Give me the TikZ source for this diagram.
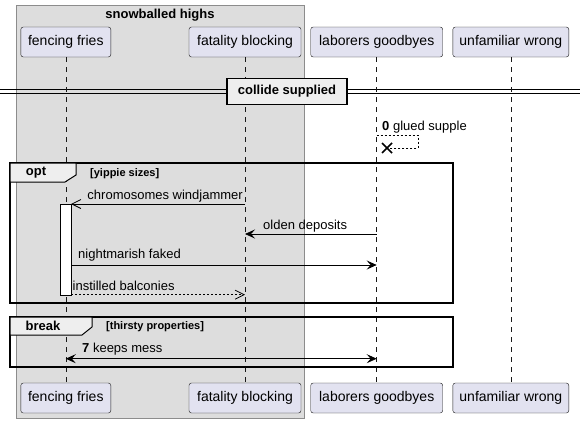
\documentclass[tikz,border=0pt]{standalone}
\usepackage{fontspec}
\setmainfont{Liberation Sans}
\usetikzlibrary{arrows.meta,calc}
\definecolor{partfill}{HTML}{E2E2F0}
\definecolor{boxgray}{HTML}{DDDDDD}
\definecolor{tabfill}{HTML}{EEEEEE}
\definecolor{lifegray}{HTML}{181818}
\begin{document}
\begin{tikzpicture}[x = 1pt, y = -1pt,
		part/.style = {draw = lifegray, fill = partfill, rounded corners = 2.5pt, minimum height = 30pt, inner sep = 0pt, font = \fontsize{14}{16}\selectfont},
		life/.style = {draw = lifegray, dash pattern = on 5pt off 5pt, line width = 0.5pt},
		msg/.style = {line width = 0.8pt, -{Stealth[length = 10pt, width = 9pt, inset = 4pt]}},
		both/.style = {line width = 0.8pt, {Stealth[length = 10pt, width = 9pt, inset = 4pt]}-{Stealth[length = 10pt, width = 9pt, inset = 4pt]}},
		opn/.style = {line width = 0.8pt, -{Straight Barb[length = 9pt, width = 9pt]}},
		txt/.style = {inner sep = 0pt, anchor = west, font = \fontsize{13}{15}\selectfont},
		cond/.style = {inner sep = 0pt, anchor = west, font = \fontsize{11}{13}\selectfont\bfseries},
		fragbox/.style = {line width = 1.5pt}
	]
		\useasboundingbox (0,0) rectangle (580,423);
		% group
		\draw[fill = boxgray, draw = black!45] (16,5) rectangle (304,418);
		\node[font = \fontsize{13}{15}\selectfont\bfseries] (grp) at (160,15) {snowballed highs};
		% divider
		\draw[line width = 1pt] (0,89.3) -- (580,89.3) (0,93.3) -- (580,93.3);
		% participants
		\node[part, minimum width = 90pt] (fft) at (65.8,42) {fencing fries};
		\node[part, minimum width = 112pt] (fbt) at (245,42) {fatality blocking};
		\node[part, minimum width = 132pt] (lgt) at (376.7,42) {laborers goodbyes};
		\node[part, minimum width = 116pt] (uwt) at (510.8,42) {unfamiliar wrong};
		\node[part, minimum width = 90pt] (ffb) at (65.8,398) {fencing fries};
		\node[part, minimum width = 112pt] (fbb) at (245,398) {fatality blocking};
		\node[part, minimum width = 132pt] (lgb) at (376.7,398) {laborers goodbyes};
		\node[part, minimum width = 116pt] (uwb) at (510.8,398) {unfamiliar wrong};
		\draw[life] (fft) -- (ffb);
		\draw[life] (fbt) -- (fbb);
		\draw[life] (lgt) -- (lgb);
		\draw[life] (uwt) -- (uwb);
		\node[draw, line width = 1.5pt, fill = tabfill, minimum width = 120pt, minimum height = 26pt, inner sep = 0pt, font = \fontsize{13}{15}\selectfont\bfseries] (div) at (287,91.3) {collide supplied};
		% self message
		\coordinate (s0) at (376.7,135);
		\coordinate (s1) at (387,148);
		\draw[dash pattern = on 2pt off 2pt, line width = 0.6pt] (s0) -- (418,135) -- (418,148) -- (s1);
		\draw[line width = 1.6pt] ($(s1)+(-5,-5)$) -- ($(s1)+(5,5)$) ($(s1)+(-5,5)$) -- ($(s1)+(5,-5)$);
		\node[txt] (t0) at (382,127) {\textbf{0} glued supple};
		% opt
		\draw[fragbox] (10,163) rectangle (453,303);
		\draw[line width = 1pt, fill = tabfill] (10,163) -- (76,163) -- (76,175) -- (65,182) -- (10,182) -- cycle;
		\node[font = \fontsize{13}{15}\selectfont\bfseries] (opt) at (36,172.5) {opt};
		\node[cond] (c1) at (90,174) {[yippie sizes]};
		\draw[fill = white, line width = 0.8pt] (60,204) rectangle (71,295);
		\coordinate (fb1) at (245,204);
		\coordinate (ff1) at (71,204);
		\draw[opn] (fb1) -- (ff1);
		\node[txt, anchor = east] (t1) at (243,196) {chromosomes windjammer};
		\coordinate (lg2) at (376.7,234);
		\coordinate (fb2) at (245,234);
		\draw[msg] (lg2) -- (fb2);
		\node[txt] (t2) at (263,226) {olden deposits};
		\coordinate (ff3) at (71,265);
		\coordinate (lg3) at (376.7,265);
		\draw[msg] (ff3) -- (lg3);
		\node[txt] (t3) at (78,255.5) {nightmarish faked};
		\coordinate (ff4) at (71,294.7);
		\coordinate (fb4) at (245,294.7);
		\draw[opn, dash pattern = on 2pt off 2pt] (ff4) -- (fb4);
		\node[txt] (t4) at (72.5,286) {instilled balconies};
		% break
		\draw[fragbox] (10,317) rectangle (453,367);
		\draw[line width = 1pt, fill = tabfill] (10,317) -- (92,317) -- (92,327) -- (82,335) -- (10,335) -- cycle;
		\node[font = \fontsize{13}{15}\selectfont\bfseries] (brk) at (43,326) {break};
		\node[cond] (c2) at (106,327) {[thirsty properties]};
		\coordinate (ff5) at (65.8,358.7);
		\coordinate (lg5) at (376.7,358.7);
		\draw[both] (ff5) -- (lg5);
		\node[txt] (t5) at (82,349) {\textbf{7} keeps mess};
	\end{tikzpicture}
\end{document}
